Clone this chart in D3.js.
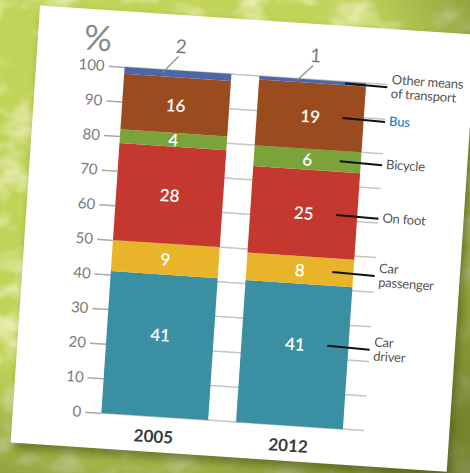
<!DOCTYPE html>
<html>
<head>
<meta charset="utf-8">
<script src="https://cdn.jsdelivr.net/npm/d3@7"></script>
<style>
  html, body { margin: 0; padding: 0; background: #c3d45a; }
  svg { display: block; }
</style>
</head>
<body>
<svg id="chart" width="470" height="473"></svg>
<script>
// Modal split of trips, percent
const years = ["2005", "2012"];
const modes = ["Car driver", "Car passenger", "On foot", "Bicycle", "Bus", "Other means of transport"];
const modeLabels = [["Car", "driver"], ["Car", "passenger"], ["On foot"], ["Bicycle"], ["Bus"], ["Other means", "of transport"]];
const share2005 = [41, 9, 28, 4, 16, 2];
const share2012 = [41, 8, 25, 6, 19, 1];
const yTicks = [0, 10, 20, 30, 40, 50, 60, 70, 80, 90, 100];
const colors = ["#3a8fa2", "#e8b42a", "#c4382f", "#7aa43a", "#9b4c1f", "#4b67a6"];

const svg = d3.select("#chart");
const defs = svg.append("defs");

// Mottled green backdrop
const tex = defs.append("filter").attr("id", "mottle").attr("x", 0).attr("y", 0).attr("width", 1).attr("height", 1);
tex.append("feTurbulence").attr("type", "fractalNoise").attr("baseFrequency", "0.025 0.035").attr("numOctaves", 3).attr("seed", 11).attr("result", "n");
tex.append("feColorMatrix").attr("in", "n").attr("type", "matrix")
  .attr("values", "0 0 0 0 0.86  0 0 0 0 0.90  0 0 0 0 0.55  0 0 0 3.2 -1.45");

const shade = defs.append("radialGradient").attr("id", "shade").attr("cx", 0.3).attr("cy", 0.3).attr("r", 0.9);
shade.append("stop").attr("offset", "0.6").attr("stop-color", "#55651a").attr("stop-opacity", 0);
shade.append("stop").attr("offset", "1").attr("stop-color", "#55651a").attr("stop-opacity", 0.7);

const blur = defs.append("filter").attr("id", "soft").attr("x", -0.1).attr("y", -0.1).attr("width", 1.2).attr("height", 1.2);
blur.append("feGaussianBlur").attr("stdDeviation", 5);

svg.append("rect").attr("width", 470).attr("height", 473).attr("fill", "#c2d35a");
svg.append("rect").attr("width", 470).attr("height", 473).attr("filter", "url(#mottle)").attr("opacity", 0.8);
svg.append("rect").attr("width", 470).attr("height", 473).attr("fill", "url(#shade)");

// The printed sheet sits slightly tilted
const sheet = svg.append("g").attr("transform", "rotate(3.85 235 236)");

sheet.append("rect").attr("x", 29).attr("y", 25).attr("width", 437).attr("height", 438)
  .attr("fill", "#4f5c14").attr("opacity", 0.7).attr("filter", "url(#soft)");
sheet.append("rect").attr("x", 25).attr("y", 19).attr("width", 437).attr("height", 438).attr("fill", "#ffffff");

const y = d3.scaleLinear().domain([0, 100]).range([421.5, 74.7]);
const x = d3.scaleBand().domain(years).range([113.5, 355.6]).paddingInner(0.207).paddingOuter(0);
const gridEnd = 377;
const font = "Lato, 'Open Sans', sans-serif";
// Labels of the base segment sit a little above its middle
const labelY = d => y((d.y0 + d.y1) / 2) - (d.y0 === 0 ? 11 : 0);

// Gridlines behind the bars
sheet.append("g").selectAll("line").data(yTicks).join("line")
  .attr("x1", x.range()[0]).attr("x2", gridEnd)
  .attr("y1", d => y(d)).attr("y2", d => y(d))
  .attr("stroke", "#c4c4c4").attr("stroke-width", 1.5);

// Y axis: short ticks with labels
const yAxis = sheet.append("g").attr("transform", `translate(${x.range()[0]},0)`)
  .call(d3.axisLeft(y).tickValues(yTicks).tickSize(16).tickPadding(4));
yAxis.select(".domain").remove();
yAxis.selectAll(".tick line").attr("stroke", "#a8a8a8").attr("stroke-width", 1.5);
yAxis.selectAll(".tick text").attr("fill", "#7a7a7a").attr("font-family", font).attr("font-size", 15);

sheet.append("text").attr("x", 85).attr("y", 46).attr("text-anchor", "middle")
  .attr("dominant-baseline", "central").attr("font-family", font).attr("font-weight", 400)
  .attr("font-size", 35).attr("fill", "#8a8a8a").text("%");

// Stacked segments
const series = years.map((yr, i) => {
  const vals = i === 0 ? share2005 : share2012;
  let acc = 0;
  return vals.map((v, k) => {
    const s = { year: yr, mode: modes[k], k, v, y0: acc, y1: acc + v };
    acc += v;
    return s;
  });
});

const bars = sheet.append("g");
series.forEach(col => {
  bars.selectAll(null).data(col).join("rect")
    .attr("x", d => x(d.year)).attr("width", x.bandwidth())
    .attr("y", d => y(d.y1)).attr("height", d => y(d.y0) - y(d.y1))
    .attr("fill", d => colors[d.k]);

  // Values inside segments
  bars.selectAll(null).data(col.filter(d => d.v >= 3)).join("text")
    .attr("x", d => x(d.year) + x.bandwidth() / 2)
    .attr("y", labelY)
    .attr("text-anchor", "middle").attr("dominant-baseline", "central")
    .attr("font-family", font).attr("font-weight", 600).attr("font-size", 17)
    .attr("fill", "#ffffff").text(d => d.v);

  // Thin segments get a callout above the bar
  col.filter(d => d.v < 3).forEach(d => {
    const bx = x(d.year);
    bars.append("line")
      .attr("x1", bx + 38).attr("y1", y((d.y0 + d.y1) / 2))
      .attr("x2", bx + 53).attr("y2", y(100) - 14)
      .attr("stroke", "#8a8a8a").attr("stroke-width", 1.2);
    bars.append("text")
      .attr("x", bx + 55).attr("y", y(100) - 25)
      .attr("text-anchor", "middle").attr("dominant-baseline", "central")
      .attr("font-family", font).attr("font-size", 19).attr("fill", "#7a7a7a")
      .text(d.v);
  });
});

// Year labels
sheet.append("g").selectAll("text").data(years).join("text")
  .attr("x", d => x(d) + x.bandwidth() / 2).attr("y", 441)
  .attr("text-anchor", "middle").attr("dominant-baseline", "central")
  .attr("font-family", font).attr("font-weight", 700).attr("font-size", 17)
  .attr("fill", "#3a3a3a").text(d => d);

// Legend with leader lines from the 2012 column
const last = series[1];
const leaderX0 = x("2012") + 86;
const legend = sheet.append("g");
last.forEach(d => {
  const ly = labelY(d);
  legend.append("line").attr("x1", leaderX0).attr("x2", gridEnd)
    .attr("y1", ly).attr("y2", ly + 1)
    .attr("stroke", "#111").attr("stroke-width", 2);
  const lines = modeLabels[d.k];
  const t = legend.append("text").attr("x", gridEnd + 4)
    .attr("font-family", font).attr("font-size", 13)
    .attr("letter-spacing", -0.2)
    .attr("font-weight", d.mode === "Bus" ? 600 : 400)
    .attr("fill", d.mode === "Bus" ? "#2a8ccc" : "#555555");
  lines.forEach((s, j) => {
    t.append("tspan").attr("x", gridEnd + 4)
      .attr("y", ly + (j - (lines.length - 1) / 2) * 14 + 4.5)
      .text(s);
  });
});
</script>
</body>
</html>
